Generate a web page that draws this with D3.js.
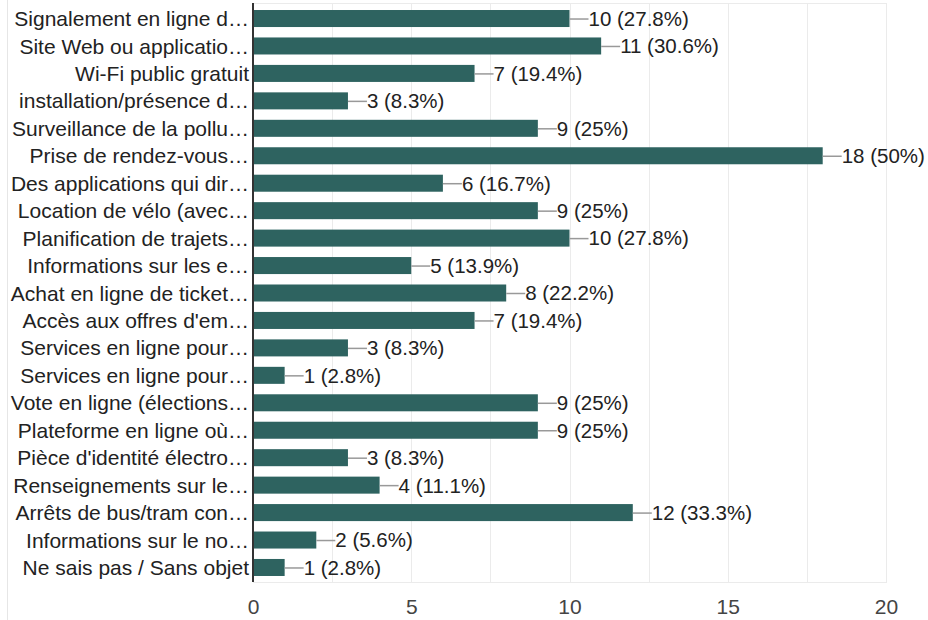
<!DOCTYPE html>
<html>
<head>
<meta charset="utf-8">
<script src="https://cdn.jsdelivr.net/npm/d3@7"></script>
<style>
  html, body { margin: 0; padding: 0; background: #fff; }
  svg { display: block; }
</style>
</head>
<body>
<svg id="chart" width="928" height="620"></svg>
<script>
const categories = [
  "Signalement en ligne d…",
  "Site Web ou applicatio…",
  "Wi-Fi public gratuit",
  "installation/présence d…",
  "Surveillance de la pollu…",
  "Prise de rendez-vous…",
  "Des applications qui dir…",
  "Location de vélo (avec…",
  "Planification de trajets…",
  "Informations sur les e…",
  "Achat en ligne de ticket…",
  "Accès aux offres d'em…",
  "Services en ligne pour…",
  "Services en ligne pour…",
  "Vote en ligne (élections…",
  "Plateforme en ligne où…",
  "Pièce d'identité électro…",
  "Renseignements sur le…",
  "Arrêts de bus/tram con…",
  "Informations sur le no…",
  "Ne sais pas / Sans objet"
];
const counts = [10, 11, 7, 3, 9, 18, 6, 9, 10, 5, 8, 7, 3, 1, 9, 9, 3, 4, 12, 2, 1];
const percents = ["27.8%", "30.6%", "19.4%", "8.3%", "25%", "50%", "16.7%", "25%", "27.8%", "13.9%", "22.2%", "19.4%", "8.3%", "2.8%", "25%", "25%", "8.3%", "11.1%", "33.3%", "5.6%", "2.8%"];
const tickValues = [0, 5, 10, 15, 20];
const gridValues = [0, 2.5, 5, 7.5, 10, 12.5, 15, 17.5, 20];

const svg = d3.select("#chart");
const font = "Arial, 'Liberation Sans', sans-serif";
const rows = categories.map((c, i) => ({ key: i, label: c, value: counts[i], pct: percents[i] }));

const x = d3.scaleLinear().domain([0, 20]).range([253, 886]);
const y = d3.scaleBand().domain(rows.map(d => d.key)).range([4.8, 581.2]).paddingInner(0.38).paddingOuter(0.19);

// card left border
svg.append("line").attr("x1", 7.5).attr("x2", 7.5).attr("y1", 0).attr("y2", 620)
  .attr("stroke", "#e6e6e6").attr("stroke-width", 1);

// gridlines
svg.append("g").selectAll("line").data(gridValues).join("line")
  .attr("x1", d => Math.round(x(d)) + 0.5).attr("x2", d => Math.round(x(d)) + 0.5)
  .attr("y1", 3).attr("y2", 582)
  .attr("stroke", "#ebebeb").attr("stroke-width", 1);
// top & bottom border lines
svg.append("g").selectAll("line").data([3, 582]).join("line")
  .attr("x1", x(0)).attr("x2", x(20) + 1).attr("y1", d => d + 0.5).attr("y2", d => d + 0.5)
  .attr("stroke", "#ebebeb").attr("stroke-width", 1);

// bars
svg.append("g").selectAll("rect").data(rows).join("rect")
  .attr("x", x(0)).attr("y", d => y(d.key))
  .attr("width", d => x(d.value) - x(0)).attr("height", y.bandwidth())
  .attr("fill", "#2e6360");

// leader lines
svg.append("g").selectAll("line").data(rows).join("line")
  .attr("x1", d => x(d.value)).attr("x2", d => x(d.value) + 19)
  .attr("y1", d => y(d.key) + y.bandwidth() / 2 + 0.5).attr("y2", d => y(d.key) + y.bandwidth() / 2 + 0.5)
  .attr("stroke", "#999").attr("stroke-width", 1.5);

// value labels
svg.append("g").selectAll("text").data(rows).join("text")
  .attr("x", d => x(d.value) + 19).attr("y", d => y(d.key) + y.bandwidth() / 2)
  .attr("dy", "0.36em")
  .attr("font-family", font).attr("font-size", 20.5).attr("fill", "#222")
  .text(d => `${d.value} (${d.pct})`);

// y axis (category labels)
const yAxis = d3.axisLeft(y).tickSize(0).tickPadding(4).tickFormat(k => categories[k]);
const gy = svg.append("g").attr("transform", `translate(${x(0)},0)`).call(yAxis);
gy.select(".domain").remove();
gy.selectAll("text").attr("font-family", font).attr("font-size", 21).attr("fill", "#222").attr("dy", "0.36em");
svg.append("line").attr("x1", x(0)).attr("x2", x(0)).attr("y1", 3).attr("y2", 582)
  .attr("stroke", "#333").attr("stroke-width", 2);

// x axis
const xAxis = d3.axisBottom(x).tickValues(tickValues).tickSize(0).tickPadding(0).tickFormat(d3.format("d"));
const gx = svg.append("g").attr("transform", `translate(0,613.5)`).call(xAxis);
gx.select(".domain").remove();
gx.selectAll("text").attr("font-family", font).attr("font-size", 21).attr("fill", "#444").attr("y", 0).attr("dy", "0");
</script>
</body>
</html>
